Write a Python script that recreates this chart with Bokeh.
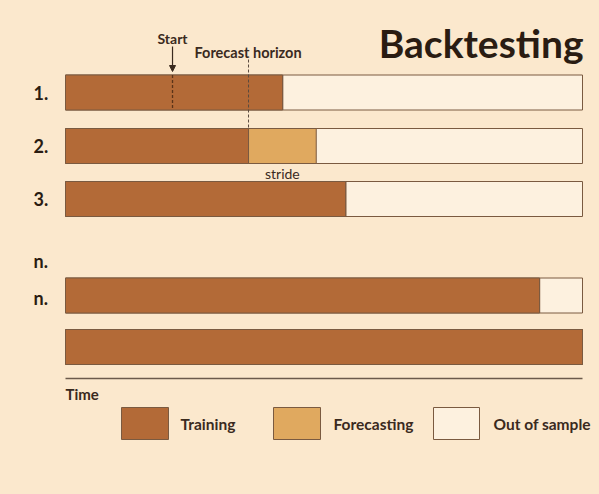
from bokeh.plotting import figure
from bokeh.models import Range1d, Arrow, NormalHead
from bokeh.core.properties import value
from bokeh.embed import file_html
from bokeh.resources import INLINE

# ---- data (time in % of full series) ----
row_labels = ["1.", "2.", "3.", "n.", ""]
train_end = [42.0, 35.4, 54.2, 91.7, 100.0]
forecast_end = [42.0, 48.5, 54.2, 91.7, 100.0]
series_end = 100.0
start_t = 20.7
horizon_t = 35.4
legend_labels = ["Training", "Forecasting", "Out of sample"]

# ---- style ----
BG = "#fbe8cd"
C_TRAIN = "#b36a37"
C_FC = "#e0a95f"
C_OOS = "#fdf1df"
EDGE = "#7a5a40"
DARK = "#2a1c12"
TXT = "#3a2a1e"
FONT = "Lato"

# layout (image pixel frame: y downwards)
row_y = [92, 145.5, 198.5, 295, 346.5]
half_h = 17.5
X0, PXU = 65.0, 5.17   # pixel of t=0, pixels per unit


def px(x):
    return (x - X0) / PXU


W, H = 599, 494
p = figure(width=W, height=H, output_backend="svg", toolbar_location=None,
           x_range=Range1d(px(0), px(W)), y_range=Range1d(H, 0),
           min_border=0, background_fill_color=BG, border_fill_color=BG,
           outline_line_color=None)
p.axis.visible = False
p.grid.visible = False

tops = [y - half_h for y in row_y]
bots = [y + half_h for y in row_y]
n = len(row_labels)

# out of sample (full bar behind)
p.quad(left=[0] * n, right=[series_end] * n, top=tops, bottom=bots,
       fill_color=C_OOS, line_color=EDGE, line_width=1)
# forecasting
p.quad(left=train_end, right=forecast_end, top=tops, bottom=bots,
       fill_color=C_FC, line_color=EDGE, line_width=1)
# training
p.quad(left=[0] * n, right=train_end, top=tops, bottom=bots,
       fill_color=C_TRAIN, line_color=EDGE, line_width=1)

# row labels
lab_y = row_y[:3] + [260] + [297]
lab_t = row_labels[:3] + ["n."] + row_labels[3:4]
p.text(x=[px(33)] * len(lab_t), y=lab_y, text=lab_t, text_font=value(FONT),
       text_font_style="bold", text_font_size="18px", text_color=DARK,
       text_baseline="middle", text_align="left")

# title
p.text(x=[px(583)], y=[42], text=["Backtesting"], text_font=value(FONT),
       text_font_style="bold", text_font_size="39px", text_color=DARK,
       text_baseline="middle", text_align="right")

# start marker
p.text(x=[start_t], y=[38], text=["Start"], text_font=value(FONT),
       text_font_style="bold", text_font_size="14px", text_color=TXT,
       text_baseline="middle", text_align="center")
p.add_layout(Arrow(end=NormalHead(size=6, fill_color="#3a2a1e", line_color="#3a2a1e"),
                   x_start=start_t, y_start=46, x_end=start_t, y_end=71,
                   line_color="#3a2a1e", line_width=1.2))
p.segment(x0=[start_t], y0=[row_y[0] - half_h], x1=[start_t], y1=[row_y[0] + half_h],
          line_color="#5a3318", line_dash="3 2", line_width=1.3)

# forecast horizon marker
p.text(x=[px(194)], y=[52], text=["Forecast horizon"], text_font=value(FONT),
       text_font_style="bold", text_font_size="14.5px", text_color=TXT,
       text_baseline="middle", text_align="left")
p.segment(x0=[horizon_t], y0=[59], x1=[horizon_t], y1=[row_y[1] - half_h],
          line_color="#5a4a3e", line_dash="3 2", line_width=1)

# stride label
p.text(x=[(train_end[1] + forecast_end[1]) / 2], y=[173], text=["stride"],
       text_font=value(FONT), text_font_size="14px", text_color=TXT,
       text_baseline="middle", text_align="center")

# time axis
p.segment(x0=[0], y0=[378], x1=[series_end], y1=[378], line_color="#6b5a4c", line_width=1.5)
p.text(x=[0], y=[393], text=["Time"], text_font=value(FONT), text_font_style="bold",
       text_font_size="15px", text_color=TXT, text_baseline="middle", text_align="left")

# legend
box_l = [px(121), px(273), px(433)]
box_r = [px(168), px(320), px(479)]
p.quad(left=box_l, right=box_r, top=[407] * 3, bottom=[439] * 3,
       fill_color=[C_TRAIN, C_FC, C_OOS], line_color=EDGE, line_width=1)
p.text(x=[px(180), px(333), px(493)], y=[423] * 3, text=legend_labels,
       text_font=value(FONT), text_font_style="bold", text_font_size="15.5px",
       text_color=TXT, text_baseline="middle", text_align="left")

html = file_html(p, INLINE)
style = "<style>html, body { margin: 0 !important; padding: 0; background: %s; overflow: hidden; }</style>" % BG
html = html.replace("</head>", style + "</head>", 1)
open("out.html", "w").write(html)
